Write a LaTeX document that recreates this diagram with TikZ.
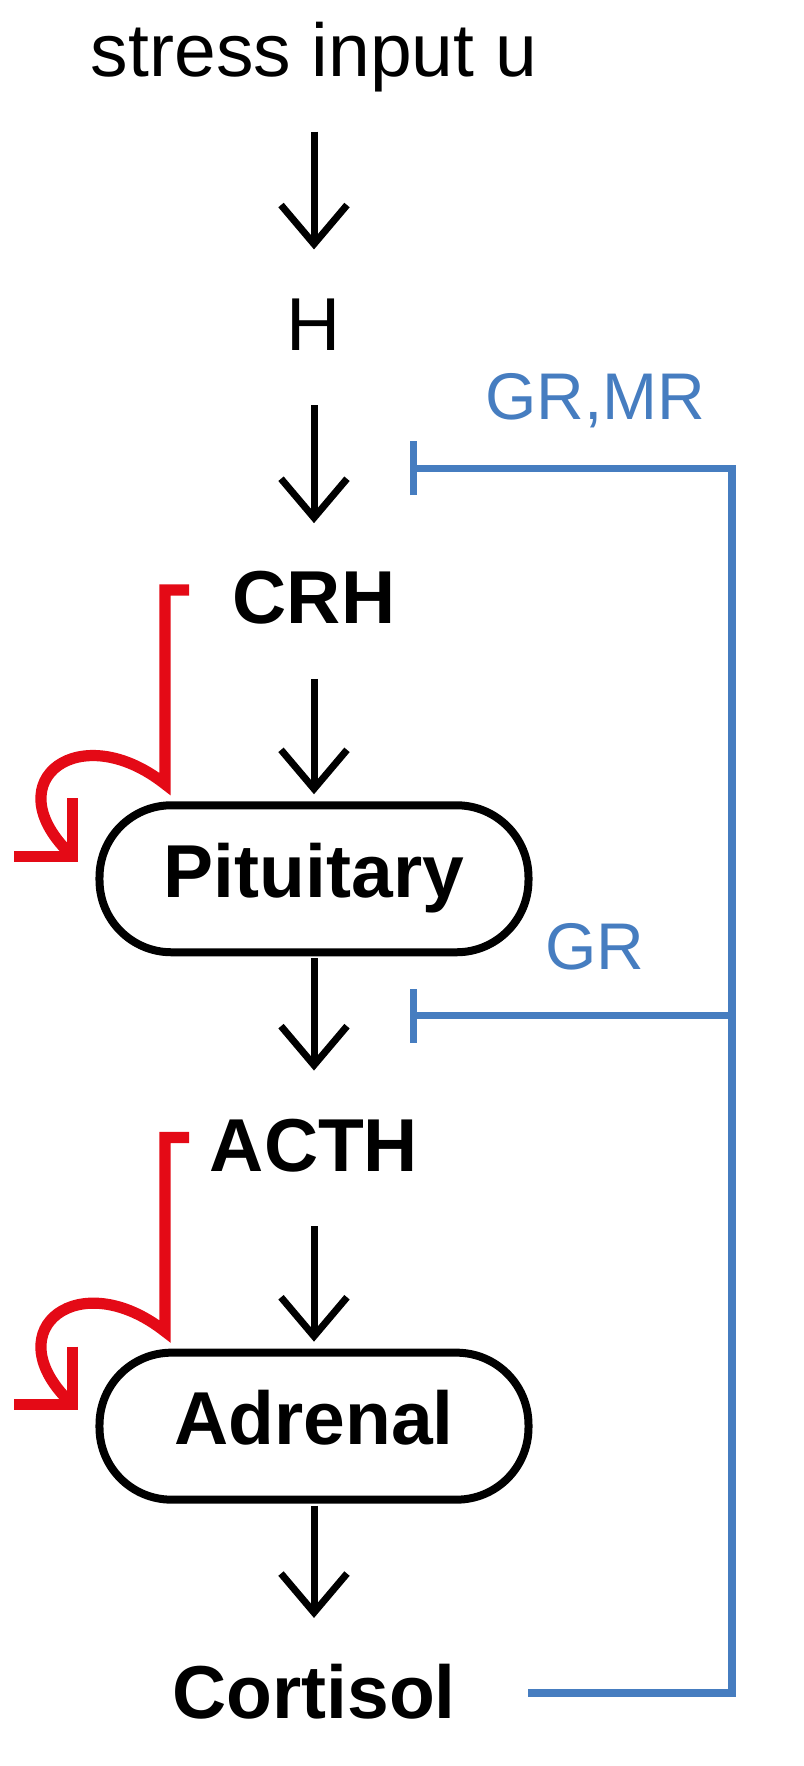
\documentclass[tikz,border=0pt]{standalone}
\usepackage{fontspec}
\setmainfont{Liberation Sans}
\usetikzlibrary{matrix,arrows.meta,calc}

\definecolor{fbred}{RGB}{228,10,22}
\definecolor{fbblue}{RGB}{70,125,192}

\begin{document}
\begin{tikzpicture}[x=0.5pt, y=-0.5pt,
  >={Straight Barb[length=19.5pt,width=33pt,sharp]},
  organ/.style={draw, line width=4pt, rounded corners=36pt, minimum width=214.5pt, minimum height=73.5pt, font=\fontsize{37.5pt}{45pt}\selectfont\bfseries},
  hormone/.style={font=\fontsize{37.5pt}{45pt}\selectfont\bfseries},
  receptor/.style={text=fbblue, font=\fontsize{33pt}{40pt}\selectfont, inner sep=0pt, anchor=base},
  txt2txt/.style={shorten <=18pt, shorten >=22pt},
  txt2box/.style={shorten <=18pt, shorten >=3.5pt},
  box2txt/.style={shorten <=1pt, shorten >=22pt},
  posfb/.style={fbred, line width=5.6pt, -{Straight Barb[length=20.5pt,width=41pt,sharp]}},
  negfb/.style={fbblue, line width=3.7pt, -{Bar[width=27pt]}}]
\useasboundingbox (0,0) rectangle (803,1766);
\matrix (m) [matrix of nodes, anchor=north, inner sep=0pt, row sep={136.85pt,between origins},
  nodes={anchor=center, inner sep=0pt, text height=28.1pt, text depth=9.4pt, font=\fontsize{37.5pt}{45pt}\selectfont}] at (314,19.75)
{
stress input u \\
H \\
|[hormone]| CRH \\
|[organ]| Pituitary \\
|[hormone]| ACTH \\
|[organ]| Adrenal \\
|[hormone]| Cortisol \\
};
\path[->, line width=3.5pt]
(m-1-1) edge[txt2txt] (m-2-1)
(m-2-1) edge[txt2txt] (m-3-1)
(m-3-1) edge[txt2box] (m-4-1)
(m-4-1) edge[box2txt] (m-5-1)
(m-5-1) edge[txt2box] (m-6-1)
(m-6-1) edge[box2txt] (m-7-1)
;
% self-stimulation loops
\coordinate (crhin) at ($(m-3-1)+(-125,-15)$);
\coordinate (pitin) at ($(m-4-1)+(-236,-17)$);
\coordinate (acthin) at ($(m-5-1)+(-125,-15)$);
\coordinate (adrin) at ($(m-6-1)+(-236,-16)$);
\draw[posfb] (crhin) -- ++(-24,0) -- ++(0,194) .. controls +(-85,-67) and +(-82,-82) .. (pitin);
\draw[posfb] (acthin) -- ++(-24,0) -- ++(0,194) .. controls +(-85,-67) and +(-82,-82) .. (adrin);
% cortisol feedback
\coordinate (cort) at ($(m-7-1.east)+(72,-7)$);
\coordinate (grmrbar) at ($(m-2-1)!.5!(m-3-1)+(96,0)$);
\coordinate (grbar) at ($(m-4-1)!.5!(m-5-1)+(96,0)$);
\draw[negfb] (cort) -| ([xshift=161pt]grmrbar) -- (grmrbar);
\draw[negfb] ([xshift=161pt]grbar) -- (grbar);
\node[receptor] (grmr) at ($(grmrbar)+(185,-49)$) {GR,MR};
\node[receptor] (gr) at ($(grbar)+(185,-46)$) {GR};
\end{tikzpicture}
\end{document}
